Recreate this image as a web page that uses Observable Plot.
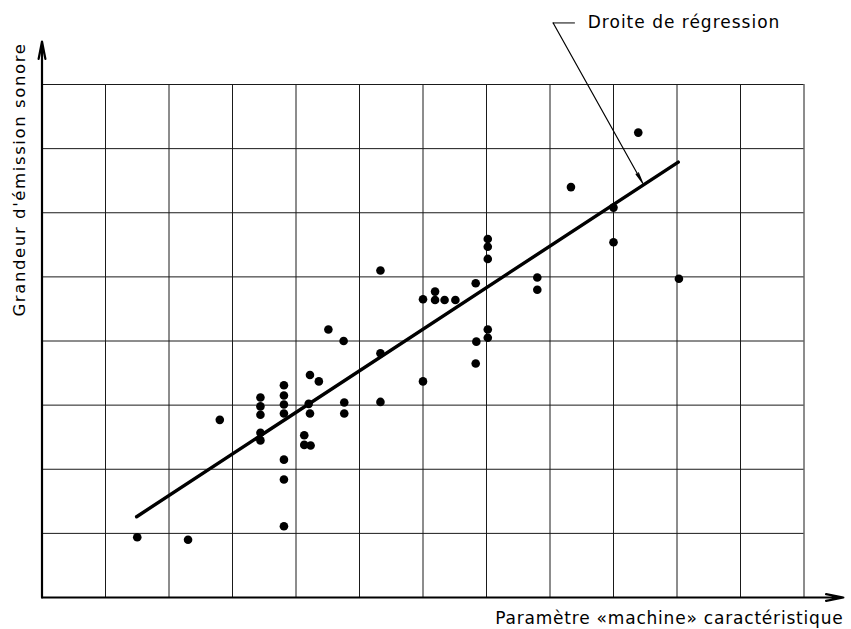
<!DOCTYPE html>
<html>
<head>
<meta charset="utf-8">
<script src="https://cdn.jsdelivr.net/npm/d3@7"></script>
<script src="https://cdn.jsdelivr.net/npm/@observablehq/plot@0.6"></script>
<style>
  html, body { margin: 0; padding: 0; background: #fff; }
  #chart svg { display: block; }
</style>
</head>
<body>
<div id="chart"></div>
<script>
// Measured points (grid units: x 0..12, y 0..8)
const pointX = [1.50, 2.30, 2.80, 3.44, 3.44, 3.44, 3.44, 3.44, 3.81, 3.81, 3.81, 3.81, 3.81, 3.81, 3.81,
  4.22, 4.36, 4.20, 4.22, 4.13, 4.13, 4.23, 4.51, 4.75, 4.76, 4.76, 5.33, 5.33, 5.33, 6.00, 6.00,
  6.19, 6.19, 6.34, 6.51, 6.83, 6.84, 6.83, 7.02, 7.02, 7.02, 7.02, 7.02, 7.80, 7.80, 8.33, 9.00,
  9.00, 9.39, 10.03];
const pointY = [0.94, 0.90, 2.77, 3.12, 2.98, 2.85, 2.57, 2.45, 3.31, 3.15, 3.01, 2.87, 2.15, 1.84, 1.11,
  3.47, 3.37, 3.02, 2.87, 2.53, 2.38, 2.37, 4.18, 4.00, 3.04, 2.87, 5.10, 3.81, 3.05, 4.65, 3.37,
  4.77, 4.64, 4.64, 4.64, 4.90, 3.99, 3.65, 5.59, 5.47, 5.28, 4.18, 4.05, 4.99, 4.80, 6.40, 6.08,
  5.54, 7.25, 4.97];

// Regression line end points
const regX = [1.49, 10.02];
const regY = [1.26, 6.79];

// Grid positions
const gridX = [1, 2, 3, 4, 5, 6, 7, 8, 9, 10, 11, 12];
const gridY = [1, 2, 3, 4, 5, 6, 7, 8];

// Axis extents (arrow tips)
const axisXEnd = 12.62;
const axisYEnd = 8.67;

// Texts
const xLabel = "Paramètre «machine» caractéristique";
const yLabel = "Grandeur d'émission sonore";
const noteLabel = "Droite de régression";

// Annotation anchor (leader line) positions in grid units
const noteStart = [8.05, 8.96];
const noteTextPos = [8.595, 8.963];
const noteLeaderEndX = 8.40;
const noteTip = [9.46, 6.46];

const points = pointX.map((x, i) => ({x, y: pointY[i]}));
const reg = regX.map((x, i) => ({x, y: regY[i]}));

const chart = Plot.plot({
  width: 851,
  height: 629,
  marginLeft: 41.5,
  marginRight: 47.5,
  marginTop: 84,
  marginBottom: 32,
  x: {domain: [0, 12], axis: null},
  y: {domain: [0, 8], axis: null},
  style: {fontFamily: "DejaVu Sans", background: "#fff", color: "#000", overflow: "visible"},
  marks: [
    Plot.ruleX(gridX, {x: d => d, y1: 0, y2: 8, stroke: "#1a1a1a", strokeWidth: 1}),
    Plot.ruleY(gridY, {y: d => d, x1: 0, x2: 12, stroke: "#1a1a1a", strokeWidth: 1}),
    // axes with arrows
    Plot.arrow([{x1: 0, y1: 0, x2: 0, y2: axisYEnd}], {x1: "x1", y1: "y1", x2: "x2", y2: "y2", stroke: "#000", strokeWidth: 2.2, headLength: 12, headAngle: 22}),
    Plot.arrow([{x1: 0, y1: 0, x2: axisXEnd, y2: 0}], {x1: "x1", y1: "y1", x2: "x2", y2: "y2", stroke: "#000", strokeWidth: 2.2, headLength: 12, headAngle: 22}),
    // regression line
    Plot.line(reg, {x: "x", y: "y", stroke: "#000", strokeWidth: 3.4, strokeLinecap: "round"}),
    // points
    Plot.dot(points, {x: "x", y: "y", r: 4.3, fill: "#000", stroke: "none"}),
    // annotation leader
    Plot.ruleY([noteStart[1]], {y: d => d, x1: noteStart[0], x2: noteLeaderEndX, stroke: "#000", strokeWidth: 1}),
    Plot.arrow([{x1: noteStart[0], y1: noteStart[1], x2: noteTip[0], y2: noteTip[1]}], {x1: "x1", y1: "y1", x2: "x2", y2: "y2", stroke: "#000", strokeWidth: 1.2, headLength: 14, headAngle: 14}),
    Plot.text([noteLabel], {x: noteTextPos[0], y: noteTextPos[1], text: d => d, textAnchor: "start", lineAnchor: "middle", fontSize: 17, fill: "#000", className: "note"}),
    // axis titles
    Plot.text([xLabel], {frameAnchor: "bottom-right", dx: 39.5, dy: 20.6, text: d => d, textAnchor: "end", lineAnchor: "middle", fontSize: 17, fill: "#000", className: "xlab"}),
    Plot.text([yLabel], {frameAnchor: "left", dx: -22, dy: -161.5, rotate: -90, text: d => d, textAnchor: "middle", lineAnchor: "middle", fontSize: 16.5, fill: "#000", className: "ylab"})
  ]
});
chart.querySelectorAll(".note text").forEach(t => t.style.letterSpacing = "1px");
chart.querySelectorAll(".xlab text").forEach(t => t.style.letterSpacing = "0.8px");
chart.querySelectorAll(".ylab text").forEach(t => t.style.letterSpacing = "1.6px");
document.getElementById("chart").appendChild(chart);
</script>
</body>
</html>
